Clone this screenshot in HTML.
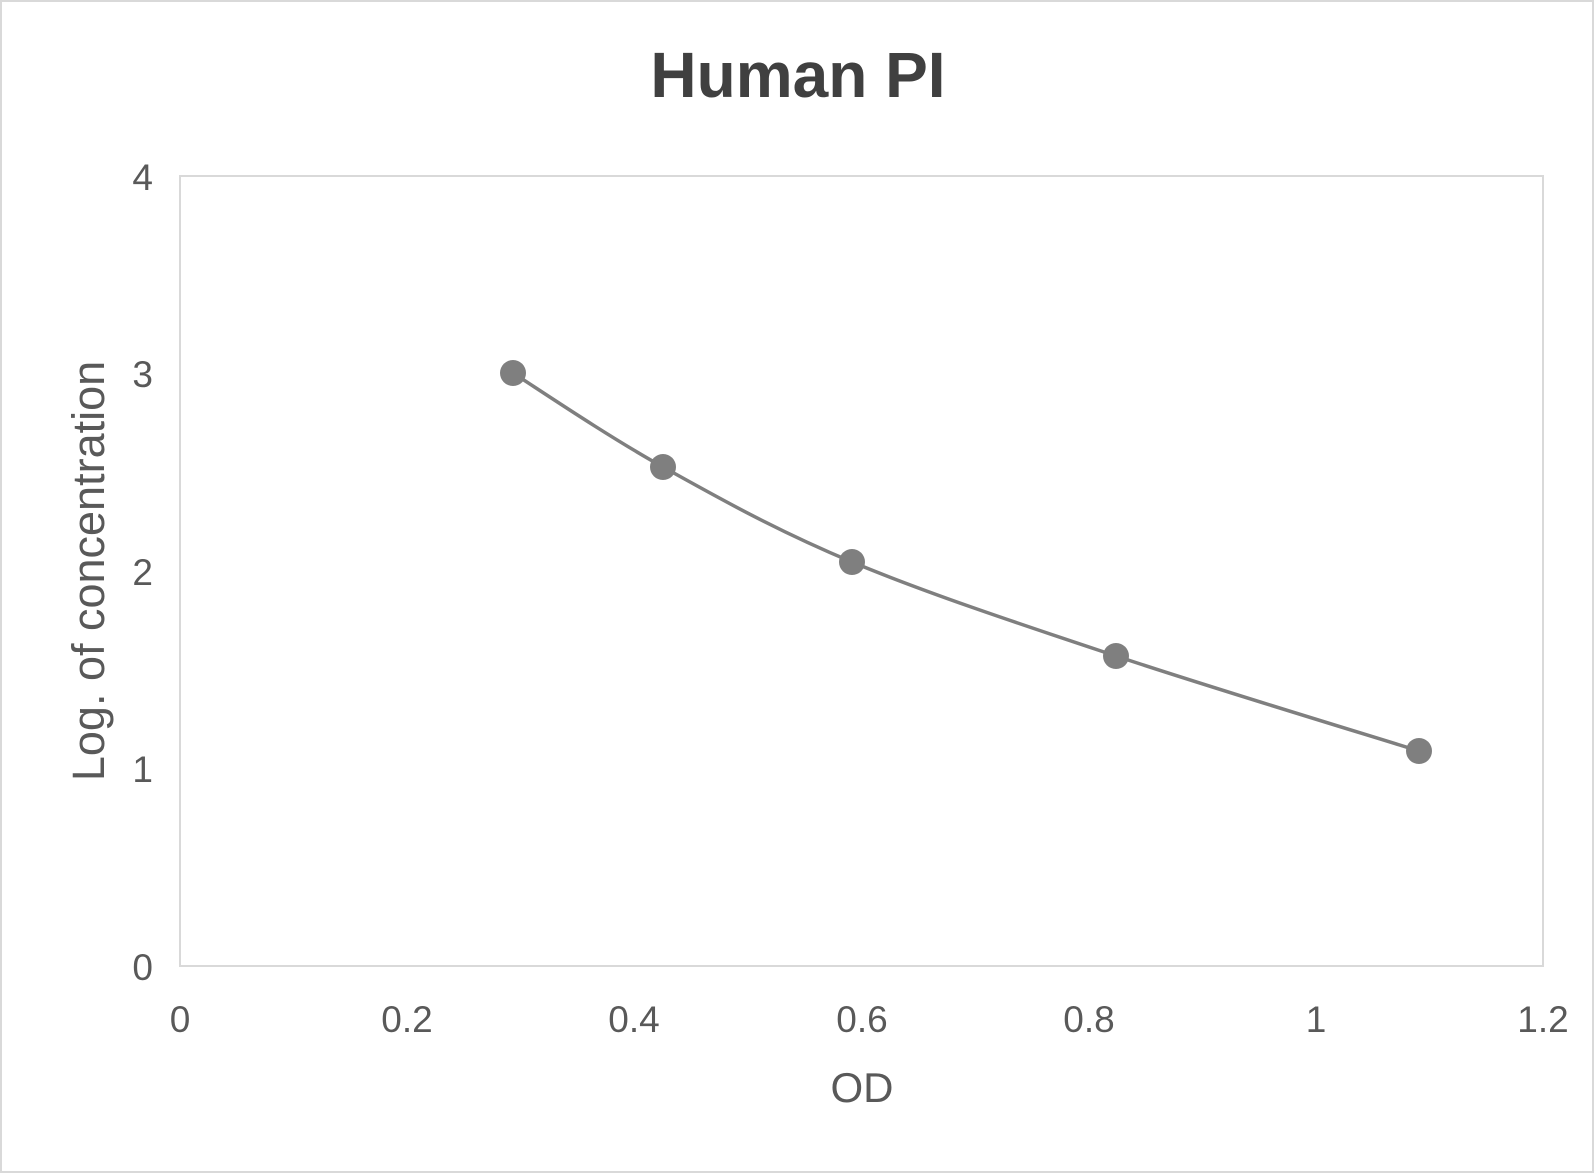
<!DOCTYPE html>
<html><head><meta charset="utf-8"><style>
html,body{margin:0;padding:0;background:#fff;}
svg{display:block;}
text{font-family:"Liberation Sans",Arial,sans-serif;fill:#595959;}
</style></head><body>
<svg width="1596" height="1175" viewBox="0 0 1596 1175">
<rect x="1" y="1" width="1592" height="1171" fill="#fff" stroke="#d9d9d9" stroke-width="2"/>
<text x="798" y="97" font-size="64" font-weight="bold" text-anchor="middle" fill="#404040" style="fill:#404040">Human PI</text>
<rect x="180" y="176" width="1363" height="790" fill="none" stroke="#d9d9d9" stroke-width="2"/>
<g font-size="37" text-anchor="end">
<text x="153" y="190">4</text>
<text x="153" y="387">3</text>
<text x="153" y="585">2</text>
<text x="153" y="782">1</text>
<text x="153" y="980">0</text>
</g>
<g font-size="37" text-anchor="middle">
<text x="180" y="1032">0</text>
<text x="407" y="1032">0.2</text>
<text x="634" y="1032">0.4</text>
<text x="862" y="1032">0.6</text>
<text x="1089" y="1032">0.8</text>
<text x="1316" y="1032">1</text>
<text x="1543" y="1032">1.2</text>
</g>
<text x="862" y="1102" font-size="42" text-anchor="middle">OD</text>
<text transform="translate(104,571) rotate(-90)" font-size="45" text-anchor="middle">Log. of concentration</text>
<path d="M513,373 C538,389 606.5,435.5 663,467 C719.5,498.5 776.5,530.5 852,562 C927.5,593.5 1021.5,624.5 1116,656 C1210.5,687.5 1368.5,735.2 1419,751" fill="none" stroke="#7f7f7f" stroke-width="3.5"/>
<g fill="#7f7f7f">
<circle cx="513" cy="373" r="13"/>
<circle cx="663" cy="467" r="13"/>
<circle cx="852" cy="562" r="13"/>
<circle cx="1116" cy="656" r="13"/>
<circle cx="1419" cy="751" r="13"/>
</g>
</svg>
</body></html>
